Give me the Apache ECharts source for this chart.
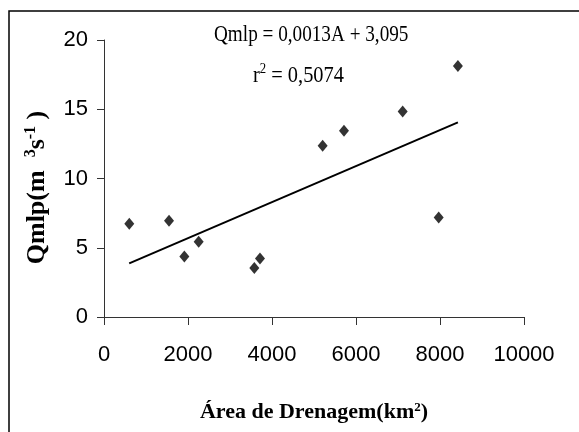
<!DOCTYPE html>
<html>
<head>
<meta charset="utf-8">
<script src="https://cdn.jsdelivr.net/npm/echarts@6/dist/echarts.min.js"></script>
<style>
  html, body { margin: 0; padding: 0; background: #fff; }
  #chart { width: 579px; height: 432px; }
</style>
</head>
<body>
<div id="chart"></div>
<script>
// observed points (area km2, Qmlp m3/s)
const areaKm2 = [602, 1548, 1913, 2254, 3579, 3714, 5206, 5714, 7111, 7969, 8426]
const qmlp = [6.73, 6.95, 4.37, 5.43, 3.53, 4.23, 12.36, 13.44, 14.83, 7.19, 18.13]

// linear trend line ends
const trendX = [600, 8426]
const trendY = [3.87, 14.05]

const xTicks = [0, 2000, 4000, 6000, 8000, 10000]
const yTicks = [0, 5, 10, 15, 20]

const serif = '"Liberation Serif", "DejaVu Serif", serif'
const sans = '"Liberation Sans", Arial, sans-serif'

const chart = echarts.init(document.getElementById('chart'), null, { renderer: 'canvas' })

chart.setOption({
  backgroundColor: '#fff',
  animation: false,
  grid: { left: 104, right: 55, top: 40, bottom: 115 },
  xAxis: {
    type: 'value',
    min: xTicks[0],
    max: xTicks[xTicks.length - 1],
    interval: 2000,
    splitLine: { show: false },
    axisLine: { onZero: false, lineStyle: { color: '#333', width: 1 } },
    axisTick: { show: true, inside: false, length: 8, lineStyle: { color: '#333' } },
    axisLabel: { margin: 27, color: '#000', fontFamily: sans, fontSize: 22, formatter: v => String(v) },
    name: 'Área de Drenagem(km{s|2})',
    nameLocation: 'middle',
    nameGap: 84,
    nameTextStyle: {
      fontFamily: serif, fontWeight: 'bold', fontSize: 22, color: '#000',
      rich: { s: { fontFamily: serif, fontWeight: 'bold', fontSize: 13, color: '#000', verticalAlign: 'top', padding: [0, 0, 10, 0] } }
    }
  },
  yAxis: {
    type: 'value',
    min: yTicks[0],
    max: yTicks[yTicks.length - 1],
    interval: 5,
    splitLine: { show: false },
    axisLine: { show: true, lineStyle: { color: '#333', width: 1 } },
    axisTick: { show: true, inside: false, length: 7, lineStyle: { color: '#333' } },
    axisLabel: { margin: 16, color: '#000', fontFamily: sans, fontSize: 22 },
    name: 'Qmlp(m  {s|3}s{s|-1} )',
    nameLocation: 'middle',
    nameRotate: 90,
    nameGap: 52,
    nameTextStyle: {
      fontFamily: serif, fontWeight: 'bold', fontSize: 26, color: '#000',
      padding: [0, 18, 0, 0],
      rich: { s: { fontFamily: serif, fontWeight: 'bold', fontSize: 16, color: '#000', verticalAlign: 'top', padding: [0, 0, 13, 0] } }
    }
  },
  graphic: [
    {
      type: 'rect', silent: true,
      shape: { x: 9, y: 11, width: 600, height: 460 },
      style: { fill: 'none', stroke: '#000', lineWidth: 1.5 }
    },
    {
      type: 'text', silent: true,
      x: 214, y: 23, scaleX: 0.8,
      style: { text: 'Qmlp = 0,0013A + 3,095', fontFamily: serif, fontSize: 24, fill: '#000' }
    },
    {
      type: 'text', silent: true,
      x: 253, y: 62, scaleX: 0.85,
      style: {
        text: 'r{s|2} = 0,5074', fontFamily: serif, fontSize: 24, fill: '#000',
        rich: { s: { fontFamily: serif, fontSize: 15, fill: '#000', verticalAlign: 'top', padding: [0, 0, 12, 0] } }
      }
    }
  ],
  series: [
    {
      type: 'line',
      data: trendX.map((x, i) => [x, trendY[i]]),
      symbol: 'none',
      lineStyle: { color: '#000', width: 2 },
      z: 2
    },
    {
      type: 'scatter',
      data: areaKm2.map((x, i) => [x, qmlp[i]]),
      symbol: 'diamond',
      symbolSize: [10, 12],
      itemStyle: { color: '#000' },
      z: 3
    }
  ]
})
</script>
</body>
</html>
